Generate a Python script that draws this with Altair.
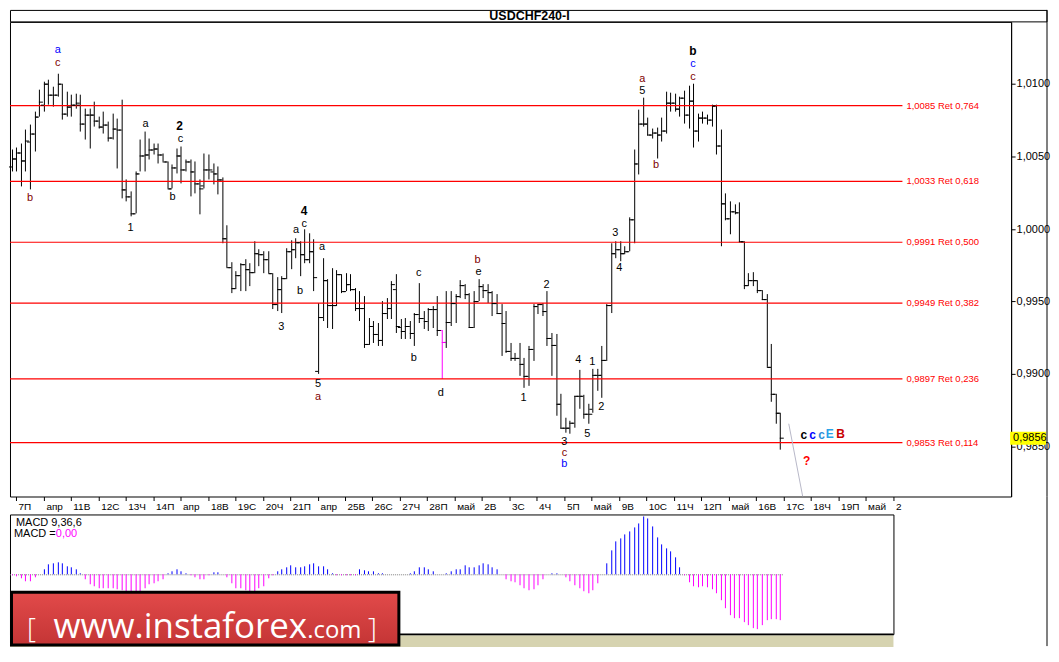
import altair as alt
import pandas as pd

# ---------------- values (USDCHF, H4 bars) ----------------
opens = [
    1.00430, 1.00482, 1.00528, 1.00471, 1.00601, 1.00654, 1.00773, 1.00853, 1.01002, 1.00922,
    1.00922, 1.00998, 1.00796, 1.00842, 1.00858, 1.00853, 1.00727, 1.00789, 1.00785, 1.00743,
    1.00704, 1.00716, 1.00629, 1.00693, 1.00682, 1.00269, 1.00224, 1.00109, 1.00384, 1.00505,
    1.00514, 1.00544, 1.00556, 1.00514, 1.00464, 1.00281, 1.00423, 1.00503, 1.00407, 1.00464,
    1.00395, 1.00315, 1.00300, 1.00409, 1.00395, 1.00381, 1.00340, 0.99937, 0.99736, 0.99594,
    0.99681, 0.99754, 0.99720, 0.99704, 0.99834, 0.99823, 0.99789, 0.99697, 0.99479, 0.99582,
    0.99658, 0.99846, 0.99857, 0.99910, 0.99823, 0.99789, 0.99846, 0.99021, 0.99392, 0.99644,
    0.99473, 0.99473, 0.99685, 0.99571, 0.99617, 0.99582, 0.99456, 0.99456, 0.99209, 0.99331,
    0.99278, 0.99232, 0.99422, 0.99452, 0.99584, 0.99323, 0.99296, 0.99330, 0.99282, 0.99412,
    0.99385, 0.99365, 0.99447, 0.99447, 0.99303, 0.99220, 0.99358, 0.99488, 0.99536, 0.99612,
    0.99550, 0.99323, 0.99502, 0.99605, 0.99578, 0.99564, 0.99488, 0.99420, 0.99351, 0.99159,
    0.99111, 0.99111, 0.99069, 0.98987, 0.99172, 0.99468, 0.99481, 0.99433, 0.99248, 0.99200,
    0.98794, 0.98629, 0.98629, 0.98664, 0.98849, 0.98849, 0.98726, 0.98760, 0.98994, 0.98994,
    0.99097, 0.99475, 0.99832, 0.99859, 0.99832, 0.99845, 1.00065, 1.00450, 1.00725, 1.00725,
    1.00649, 1.00663, 1.00649, 1.00677, 1.00869, 1.00869, 1.00828, 1.00904, 1.00787, 1.00883,
    1.00677, 1.00766, 1.00766, 1.00752, 1.00849, 1.00574, 1.00175, 1.00072, 1.00120, 1.00113,
    0.99914, 0.99612, 0.99646, 0.99646, 0.99578, 0.99516, 0.99049, 0.98863, 0.98733,
]
highs = [
    1.00544, 1.00560, 1.00590, 1.00682, 1.00716, 1.00807, 1.00956, 1.01014, 1.01025, 1.00979,
    1.01071, 1.01002, 1.00945, 1.00922, 1.00933, 1.00922, 1.00830, 1.00830, 1.00876, 1.00773,
    1.00807, 1.00739, 1.00796, 1.00762, 1.00888, 1.00338, 1.00258, 1.00395, 1.00613, 1.00670,
    1.00624, 1.00590, 1.00590, 1.00521, 1.00464, 1.00441, 1.00556, 1.00567, 1.00475, 1.00475,
    1.00464, 1.00338, 1.00519, 1.00512, 1.00450, 1.00429, 1.00354, 1.00022, 0.99773, 0.99708,
    0.99766, 0.99789, 0.99766, 0.99914, 0.99857, 0.99846, 0.99846, 0.99697, 0.99667, 0.99674,
    0.99869, 0.99919, 0.99937, 0.99914, 0.99995, 0.99972, 0.99926, 0.99491, 0.99800, 0.99651,
    0.99731, 0.99713, 0.99685, 0.99697, 0.99690, 0.99590, 0.99571, 0.99537, 0.99388, 0.99365,
    0.99353, 0.99502, 0.99525, 0.99640, 0.99688, 0.99378, 0.99385, 0.99365, 0.99419, 0.99626,
    0.99433, 0.99454, 0.99467, 0.99536, 0.99303, 0.99571, 0.99571, 0.99550, 0.99646, 0.99619,
    0.99557, 0.99571, 0.99653, 0.99619, 0.99619, 0.99568, 0.99550, 0.99481, 0.99433, 0.99213,
    0.99145, 0.99213, 0.99111, 0.99193, 0.99481, 0.99481, 0.99488, 0.99571, 0.99282, 0.99275,
    0.98863, 0.98698, 0.98677, 0.98849, 0.99028, 0.98856, 0.98794, 0.99035, 0.99035, 0.99193,
    0.99481, 0.99900, 0.99914, 0.99914, 0.99880, 1.00079, 1.00546, 1.00821, 1.00904, 1.00766,
    1.00691, 1.00697, 1.00766, 1.00945, 1.00938, 1.00931, 1.00910, 1.00952, 1.00986, 1.01000,
    1.00794, 1.00807, 1.00787, 1.00855, 1.00855, 1.00684, 1.00244, 1.00189, 1.00168, 1.00182,
    0.99914, 0.99694, 0.99701, 0.99646, 0.99578, 0.99550, 0.99207, 0.98863, 0.98733,
]
lows = [
    1.00395, 1.00395, 1.00292, 1.00395, 1.00269, 1.00533, 1.00773, 1.00807, 1.00853, 1.00842,
    1.00911, 1.00750, 1.00773, 1.00773, 1.00830, 1.00670, 1.00613, 1.00556, 1.00704, 1.00693,
    1.00659, 1.00601, 1.00613, 1.00418, 1.00212, 1.00189, 1.00086, 1.00109, 1.00395, 1.00395,
    1.00475, 1.00510, 1.00453, 1.00464, 1.00276, 1.00281, 1.00384, 1.00315, 1.00395, 1.00224,
    1.00246, 1.00098, 1.00278, 1.00340, 1.00306, 1.00237, 0.99900, 0.99736, 0.99560, 0.99582,
    0.99571, 0.99571, 0.99605, 0.99697, 0.99743, 0.99697, 0.99697, 0.99445, 0.99434, 0.99422,
    0.99651, 0.99720, 0.99800, 0.99674, 0.99766, 0.99766, 0.99571, 0.98999, 0.99365, 0.99319,
    0.99308, 0.99468, 0.99560, 0.99571, 0.99571, 0.99434, 0.99365, 0.99182, 0.99200, 0.99216,
    0.99193, 0.99193, 0.99376, 0.99376, 0.99282, 0.99241, 0.99241, 0.99241, 0.99193, 0.99351,
    0.99310, 0.99296, 0.99317, 0.99262, 0.98966, 0.99179, 0.99330, 0.99351, 0.99523, 0.99516,
    0.99317, 0.99317, 0.99502, 0.99523, 0.99488, 0.99399, 0.99413, 0.99124, 0.99145, 0.99090,
    0.99090, 0.98987, 0.98905, 0.98918, 0.99090, 0.99413, 0.99399, 0.99193, 0.98987, 0.98712,
    0.98622, 0.98595, 0.98588, 0.98629, 0.98760, 0.98691, 0.98657, 0.98733, 0.98884, 0.98836,
    0.99090, 0.99420, 0.99797, 0.99777, 0.99825, 0.99845, 0.99900, 1.00374, 1.00704, 1.00642,
    1.00622, 1.00484, 1.00601, 1.00656, 1.00807, 1.00807, 1.00773, 1.00725, 1.00691, 1.00560,
    1.00601, 1.00725, 1.00718, 1.00704, 1.00512, 0.99880, 1.00058, 0.99962, 1.00100, 0.99907,
    0.99584, 0.99605, 0.99605, 0.99557, 0.99509, 0.99049, 0.98808, 0.98657, 0.98478,
]
closes = [
    1.00482, 1.00528, 1.00471, 1.00608, 1.00654, 1.00773, 1.00876, 1.01002, 1.00922, 1.00922,
    1.00998, 1.00796, 1.00842, 1.00858, 1.00872, 1.00727, 1.00789, 1.00785, 1.00743, 1.00704,
    1.00716, 1.00629, 1.00693, 1.00682, 1.00269, 1.00224, 1.00109, 1.00384, 1.00505, 1.00514,
    1.00544, 1.00556, 1.00514, 1.00464, 1.00281, 1.00423, 1.00503, 1.00407, 1.00464, 1.00395,
    1.00315, 1.00281, 1.00409, 1.00409, 1.00381, 1.00340, 0.99935, 0.99736, 0.99594, 0.99681,
    0.99754, 0.99720, 0.99704, 0.99834, 0.99823, 0.99789, 0.99697, 0.99479, 0.99582, 0.99658,
    0.99846, 0.99857, 0.99910, 0.99823, 0.99789, 0.99846, 0.99667, 0.99392, 0.99644, 0.99473,
    0.99473, 0.99685, 0.99571, 0.99617, 0.99582, 0.99456, 0.99456, 0.99209, 0.99331, 0.99278,
    0.99232, 0.99422, 0.99452, 0.99617, 0.99330, 0.99296, 0.99330, 0.99282, 0.99412, 0.99385,
    0.99365, 0.99447, 0.99447, 0.99303, 0.99220, 0.99358, 0.99488, 0.99536, 0.99612, 0.99550,
    0.99323, 0.99502, 0.99605, 0.99578, 0.99564, 0.99488, 0.99420, 0.99351, 0.99159, 0.99111,
    0.99111, 0.99069, 0.98987, 0.99172, 0.99468, 0.99481, 0.99433, 0.99248, 0.99200, 0.98794,
    0.98629, 0.98629, 0.98664, 0.98849, 0.98849, 0.98726, 0.98726, 0.98994, 0.98994, 0.99097,
    0.99475, 0.99832, 0.99859, 0.99832, 0.99845, 1.00065, 1.00450, 1.00725, 1.00725, 1.00649,
    1.00663, 1.00649, 1.00677, 1.00869, 1.00869, 1.00828, 1.00904, 1.00787, 1.00883, 1.00677,
    1.00766, 1.00766, 1.00752, 1.00849, 1.00574, 1.00175, 1.00072, 1.00120, 1.00113, 0.99914,
    0.99612, 0.99646, 0.99646, 0.99578, 0.99516, 0.99049, 0.98863, 0.98733, 0.98561,
]
# MACD(9,36,6) histogram, one value per bar
macd = [
    -0.00005, -0.00010, -0.00020, -0.00034, -0.00034, -0.00017, -0.00002, 0.00024, 0.00047, 0.00054,
    0.00057, 0.00054, 0.00040, 0.00034, 0.00027, 0.00003, -0.00024, -0.00047, -0.00059, -0.00070,
    -0.00070, -0.00070, -0.00070, -0.00075, -0.00080, -0.00085, -0.00088, -0.00088, -0.00083, -0.00067,
    -0.00050, -0.00044, -0.00034, -0.00024, 0.00003, 0.00014, 0.00027, 0.00017, 0.00007, -0.00007,
    -0.00014, -0.00024, -0.00024, -0.00003, 0.00010, 0.00010, 0.00002, -0.00017, -0.00044, -0.00067,
    -0.00070, -0.00080, -0.00085, -0.00083, -0.00067, -0.00057, -0.00020, -0.00003, 0.00017, 0.00027,
    0.00037, 0.00042, 0.00037, 0.00037, 0.00040, 0.00047, 0.00054, 0.00040, 0.00040, 0.00024,
    0.00007, -0.00004, -0.00004, -0.00007, -0.00004, -0.00004, 0.00027, 0.00020, 0.00017, 0.00017,
    0.00007, 0.00004, 0.00002, 0.00002, 0.00002, 0.00002, 0.00002, 0.00007, 0.00014, 0.00034,
    0.00034, 0.00027, 0.00014, 0.00002, 0.00002, 0.00007, 0.00017, 0.00027, 0.00027, 0.00044,
    0.00037, 0.00037, 0.00044, 0.00054, 0.00047, 0.00037, 0.00027, 0.00002, -0.00024, -0.00034,
    -0.00037, -0.00054, -0.00067, -0.00080, -0.00072, -0.00054, -0.00024, 0.00002, 0.00007, 0.00007,
    0.00002, -0.00017, -0.00034, -0.00054, -0.00067, -0.00084, -0.00092, -0.00080, -0.00044, 0.00002,
    0.00054, 0.00117, 0.00164, 0.00177, 0.00197, 0.00210, 0.00234, 0.00250, 0.00284, 0.00277,
    0.00237, 0.00184, 0.00147, 0.00127, 0.00112, 0.00084, 0.00037, -0.00007, -0.00037, -0.00059,
    -0.00064, -0.00059, -0.00064, -0.00072, -0.00092, -0.00127, -0.00167, -0.00204, -0.00217, -0.00217,
    -0.00239, -0.00254, -0.00267, -0.00270, -0.00254, -0.00227, -0.00220, -0.00222, -0.00227,
]
highlight_bar = 94  # the magenta "d" bar

fib_prices = [1.0085, 1.0033, 0.9991, 0.9949, 0.9897, 0.9853]
fib_labels = ["1,0085 Ret 0,764", "1,0033 Ret 0,618", "0,9991 Ret 0,500",
              "0,9949 Ret 0,382", "0,9897 Ret 0,236", "0,9853 Ret 0,114"]
price_ticks = [0.9850, 0.9900, 0.9950, 1.0000, 1.0050, 1.0100]
current_price = 0.9856
day_labels = ["7П", "апр", "11В", "12С", "13Ч", "14П", "апр", "18В", "19С", "20Ч", "21П",
              "апр", "25В", "26С", "27Ч", "28П", "май", "2В", "3С", "4Ч", "5П", "май",
              "9В", "10С", "11Ч", "12П", "май", "16В", "17С", "18Ч", "19П", "май", "2"]

# wave marks: text, bar position, price, degree
wave_text = ["a", "c", "b", "1", "a", "c", "b", "c", "a", "a", "b", "3", "5", "a",
             "c", "b", "d", "b", "e", "2", "1", "4", "1", "2", "5", "3", "c", "b",
             "4", "3", "a", "5", "b", "c", "c"]
wave_bar = [10.0, 10.0, 3.96, 26.0, 29.2, 37.0, 35.1, 64.0, 62.1, 67.9, 63.0, 59.0, 67.0, 67.0,
            88.9, 88.0, 93.8, 101.8, 102.0, 116.9, 112.0, 123.9, 126.9, 128.8, 125.8, 120.8, 120.8, 120.8,
            132.9, 131.9, 137.9, 137.9, 140.9, 148.9, 148.9]
wave_price = [1.01233, 1.01144, 1.00210, 1.00004, 1.00725, 1.00622, 1.00217, 1.00031, 0.99990, 0.99873,
              0.99571, 0.99323, 0.98932, 0.98842, 0.99694, 0.99111, 0.98870, 0.99784, 0.99701, 0.99612,
              0.98836, 0.99097, 0.99083, 0.98774, 0.98588, 0.98533, 0.98458, 0.98382, 0.99729, 0.99969,
              1.01034, 1.00952, 1.00436, 1.01137, 1.01048]
wave_deg = ["u", "m", "m", "k", "k", "k", "k", "k", "k", "k", "k", "k", "k", "m",
            "k", "k", "k", "m", "k", "k", "k", "k", "k", "k", "k", "k", "m", "u",
            "k", "k", "m", "k", "m", "u", "m"]
bold_text = ["2", "4", "b", "c", "c", "c", "E", "B", "?"]
bold_bar = [36.8, 64.0, 148.9, 173.1, 175.1, 177.0, 178.9, 181.1, 173.8]
bold_price = [1.00711, 1.00120, 1.01226, 0.98581, 0.98581, 0.98581, 0.98588, 0.98588, 0.98403]
bold_deg = ["k", "k", "k", "k", "u", "l", "e", "r", "q"]
proj_bar = [169.9, 172.9]
proj_price = [0.98657, 0.98156]

# ---------------- layout ----------------
W_MAIN, H_MAIN = 1004, 476
W_MACD, H_MACD = 886, 120
FONT = "Liberation Sans"
xs_main = alt.Scale(domain=[-0.361, 218.48], nice=False, zero=False, round=True)
ys_main = alt.Scale(domain=[0.981566, 1.014258], nice=False, zero=False, round=True)
xs_macd = alt.Scale(domain=[-0.361, 192.77], nice=False, zero=False, round=True)
ys_macd = alt.Scale(domain=[-0.00296, 0.00296], nice=False, zero=False, round=True)
deg_scale = alt.Scale(domain=["k", "m", "u", "l", "e", "r", "q"],
                      range=["#000000", "#800000", "#0000ff", "#2f8fd9", "#29a3e8", "#c80000", "#ff0000"])

day_ticks = [round(1.0 + 5.99 * k, 3) for k in range(len(day_labels))]
lab_arr = "[" + ",".join("'" + s + "'" for s in day_labels) + "]"
x_axis = alt.Axis(values=day_ticks, labelExpr=lab_arr + "[round((datum.value - 1.0) / 5.99)]",
                  tickSize=4, tickColor="black", domain=False, grid=False, title=None,
                  labelFont=FONT, labelFontSize=10, labelColor="black", labelAlign="left",
                  labelOffset=2, labelPadding=1, labelOverlap=False, labelFlush=False, labelBound=False)
y_axis = alt.Axis(orient="right", values=price_ticks,
                  labelExpr="replace(format(datum.value, '.4f'), '.', ',')",
                  tickSize=4, tickColor="black", domainColor="black", grid=False, title=None,
                  labelFont=FONT, labelFontSize=11, labelColor="black", labelPadding=1,
                  labelFlush=False, labelOverlap=False)

n = len(opens)
for arr in (highs, lows, closes, macd):
    if len(arr) != n:
        raise ValueError("length mismatch")
bars = pd.DataFrame({"i": list(range(n)), "o": opens, "h": highs, "l": lows, "c": closes, "m": macd})
bar_color = alt.condition(f"datum.i == {highlight_bar}", alt.value("#ff00ff"), alt.value("#000000"))

fib = pd.DataFrame({"p": fib_prices, "t": fib_labels})
waves = pd.DataFrame({"t": wave_text, "j": wave_bar, "p": wave_price, "d": wave_deg})
bolds = pd.DataFrame({"t": bold_text, "j": bold_bar, "p": bold_price, "d": bold_deg})
proj = pd.DataFrame({"j": proj_bar, "p": proj_price})
cur = pd.DataFrame({"p": [current_price]})
one = pd.DataFrame({"k": [0]})


def X(f):
    return alt.X(f, type="quantitative", scale=xs_main, axis=x_axis)


def Y(f):
    return alt.Y(f, type="quantitative", scale=ys_main, axis=y_axis)


hl = alt.Chart(bars).mark_rule(strokeWidth=1, xOffset=0.5).encode(
    x=X("i"), y=Y("l"), y2="h:Q", color=bar_color)
fib_lines = alt.Chart(fib).transform_calculate(x1="-0.361", x2="194.7").mark_rule(
    color="#ff0000", strokeWidth=1.2).encode(x=X("x1"), x2="x2:Q", y=Y("p"))
op = alt.Chart(bars).transform_calculate(xa="datum.i - 0.65").mark_rule(
    strokeWidth=1, yOffset=0.5).encode(x=X("xa"), x2="i:Q", y=Y("o"), color=bar_color)
cl = alt.Chart(bars).transform_calculate(xb="datum.i + 0.85").mark_rule(
    strokeWidth=1, yOffset=0.5).encode(x=X("i"), x2="xb:Q", y=Y("c"), color=bar_color)
fib_text = alt.Chart(fib).transform_calculate(xl="195.6").mark_text(
    align="left", baseline="middle", color="#ff0000", font=FONT, fontSize=9.5).encode(
    x=X("xl"), y=Y("p"), text="t:N")
wave_layer = alt.Chart(waves).mark_text(font=FONT, fontSize=11, baseline="middle").encode(
    x=X("j"), y=Y("p"), text="t:N", color=alt.Color("d:N", scale=deg_scale, legend=None))
bold_layer = alt.Chart(bolds).mark_text(font=FONT, fontSize=12, fontWeight="bold", baseline="middle").encode(
    x=X("j"), y=Y("p"), text="t:N", color=alt.Color("d:N", scale=deg_scale, legend=None))
proj_layer = alt.Chart(proj).mark_line(color="#b8b8c8", strokeWidth=1, clip=True).encode(
    x=X("j"), y=Y("p"))
cur_box = alt.Chart(cur).transform_calculate(hi="datum.p + 0.00043", lo="datum.p - 0.00043").mark_rect(
    color="#ffff00").encode(x=alt.value(1003), x2=alt.value(1039), y=Y("hi"), y2="lo:Q")
cur_txt = alt.Chart(cur).transform_calculate(lab="replace(format(datum.p, '.4f'), '.', ',')").mark_text(
    align="left", baseline="middle", font=FONT, fontSize=11, color="black").encode(
    x=alt.value(1006), y=Y("p"), text="lab:N")
title_bar = alt.Chart(one).mark_rect(fill="white", stroke="black", strokeWidth=1).encode(
    x=alt.value(0.5), x2=alt.value(1040), y=alt.value(-11.5), y2=alt.value(0))
title_txt = alt.Chart(one).mark_text(text="USDCHF240-I", font=FONT, fontSize=12.5, fontWeight="bold",
                                     align="center", baseline="middle", color="black").encode(
    x=alt.value(521), y=alt.value(-5.5))
right_edge = alt.Chart(one).mark_rule(color="black", strokeWidth=1).encode(
    x=alt.value(1040), y=alt.value(-12), y2=alt.value(H_MAIN))

main = alt.layer(hl, fib_lines, op, cl, fib_text, wave_layer, bold_layer, proj_layer,
                 cur_box, cur_txt, title_bar, title_txt, right_edge).properties(
    width=W_MAIN, height=H_MAIN)

# ---------------- MACD panel ----------------
zero_line = alt.Chart(one).transform_calculate(a="-0.361", b="168.5", z="0").mark_rule(
    color="#808080", strokeWidth=1, strokeDash=[1, 1], yOffset=0.5).encode(
    x=alt.X("a:Q", scale=xs_macd, axis=None), x2="b:Q", y=alt.Y("z:Q", scale=ys_macd, axis=None))
hist = alt.Chart(bars).transform_calculate(z="0").mark_rule(strokeWidth=1, xOffset=0.5).encode(
    x=alt.X("i:Q", scale=xs_macd, axis=None), y=alt.Y("z:Q", scale=ys_macd, axis=None), y2="m:Q",
    color=alt.condition("datum.m >= 0", alt.value("#0000ff"), alt.value("#ff00ff")))
t1 = alt.Chart(one).mark_text(text="MACD 9,36,6", align="left", baseline="middle", font=FONT,
                              fontSize=11, color="black").encode(x=alt.value(6), y=alt.value(9))
t2 = alt.Chart(one).mark_text(text="MACD =", align="left", baseline="middle", font=FONT,
                              fontSize=11, color="black").encode(x=alt.value(4), y=alt.value(20))
t3 = alt.Chart(one).mark_text(text="0,00", align="left", baseline="middle", font=FONT,
                              fontSize=11, color="#ff00ff").encode(x=alt.value(46), y=alt.value(20))
sep = alt.Chart(one).mark_rect(color="black").encode(
    x=alt.value(0), x2=alt.value(W_MACD), y=alt.value(119.5), y2=alt.value(121.5))
strip = alt.Chart(one).mark_rect(color="#d6d3b0").encode(
    x=alt.value(0), x2=alt.value(W_MACD), y=alt.value(121.5), y2=alt.value(133))
banner = alt.Chart(one).mark_rect(
    fill={"gradient": "linear", "x1": 0, "x2": 0, "y1": 0, "y2": 1,
          "stops": [{"offset": 0, "color": "#e24a4a"}, {"offset": 1, "color": "#c43535"}]},
    stroke="black", strokeWidth=3).encode(
    x=alt.value(1.5), x2=alt.value(390), y=alt.value(78), y2=alt.value(131))
b1 = alt.Chart(one).mark_text(text="[", font="Open Sans", fontSize=28, fontWeight=300, color="white",
                              align="left", baseline="alphabetic").encode(x=alt.value(17), y=alt.value(124))
b2 = alt.Chart(one).mark_text(text="www.instaforex", font="Open Sans", fontSize=35, color="white",
                              align="right", baseline="alphabetic").encode(x=alt.value(298), y=alt.value(124))
b3 = alt.Chart(one).mark_text(text=".com", font="Open Sans", fontSize=24, color="white",
                              align="left", baseline="alphabetic").encode(x=alt.value(298), y=alt.value(124))
b4 = alt.Chart(one).mark_text(text="]", font="Open Sans", fontSize=28, fontWeight=300, color="white",
                              align="left", baseline="alphabetic").encode(x=alt.value(359), y=alt.value(124))
right_edge2 = alt.Chart(one).mark_rule(color="black", strokeWidth=1).encode(
    x=alt.value(1040), y=alt.value(-18), y2=alt.value(132))

macd_panel = alt.layer(zero_line, hist, t1, t2, t3, sep, strip, banner, b1, b2, b3, b4,
                       right_edge2).properties(width=W_MACD, height=H_MACD)

chart = alt.vconcat(main, macd_panel, spacing=18, bounds="flush").properties(
    padding=0, background="white").configure_view(stroke="black", strokeWidth=1)

chart.save("out.html", embed_options={"renderer": "svg", "actions": False})
